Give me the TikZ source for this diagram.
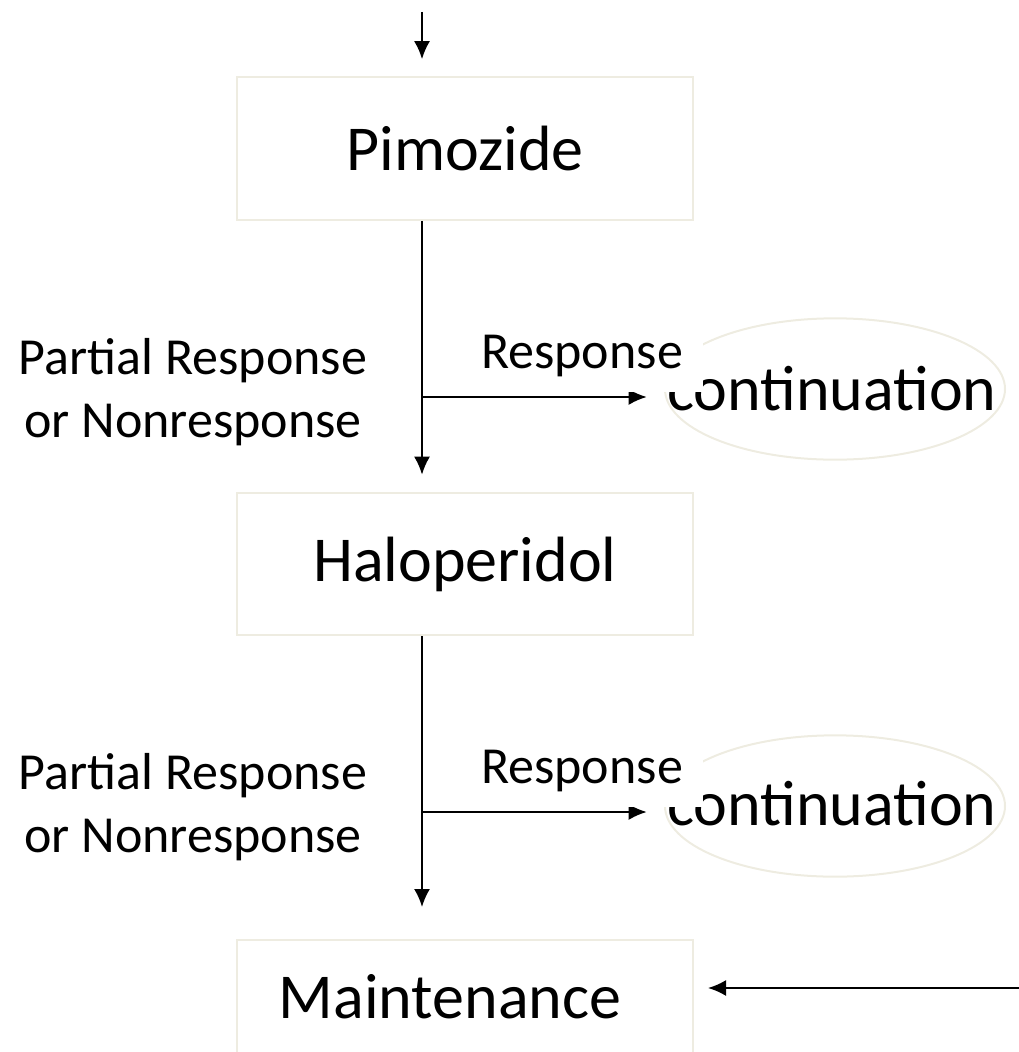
\documentclass[tikz,border=0pt]{standalone}
\usepackage{fontspec}
\setmainfont{Carlito}
\usetikzlibrary{arrows.meta,shapes.geometric}
\definecolor{boxline}{HTML}{EEECE1}
\begin{document}
\begin{tikzpicture}[x=0.75pt,y=-0.75pt,
  drug/.style={draw=boxline,line width=1.5pt,minimum width=342pt,minimum height=107pt,
    font=\fontsize{48}{57}\selectfont},
  cont/.style={draw=boxline,line width=1.5pt,ellipse,minimum width=255pt,minimum height=106pt,
    inner sep=0pt},
  big/.style={font=\fontsize{48}{57}\selectfont,inner sep=0pt,anchor=base},
  lbl/.style={font=\fontsize{39}{47}\selectfont,align=center},
  resp/.style={font=\fontsize{39}{47}\selectfont,fill=white,anchor=base,
    text height=30pt,text depth=15.5pt,inner xsep=15pt,inner ysep=2.5pt},
  arr/.style={-{Latex[length=13.5pt,width=12pt]},line width=1.5pt}]%
\useasboundingbox (0,0) rectangle (1019,1052);
% boxes
\node[drug] (pim) at (465,148.5) {Pimozide};
\node[drug] (hal) at (465,564) {Haloperidol};
\node[drug,minimum height=90pt] (mnt) at (465,1000) {};
\node[big] (mnttxt) at (450,1018) {Maintenance};
\node[cont] (c1) at (835,389) {};
\node[big] (c1txt) at (832,410) {continuation};
\node[cont] (c2) at (835,806) {};
\node[big] (c2txt) at (832,825) {continuation};
% free ends
\coordinate (in) at (422,12);
\coordinate (j1) at (422,397);
\coordinate (j2) at (422,812);
\coordinate (rt) at (1019,988);
% connectors
\draw[arr,shorten >=12.75pt] (in) -- (in |- pim.north);
\draw[arr,shorten >=12.75pt] (pim.south -| in) -- (hal.north -| in);
\draw[arr] (hal.south -| in) -- (422,907);
\draw[arr,shorten >=13pt] (j1) -- (j1 -| c1.west);
\draw[arr,shorten >=13pt] (j2) -- (j2 -| c2.west);
\draw[arr,shorten >=10.5pt] (rt) -- (rt -| mnt.east);
% labels
\node[resp] (r1) at (582,368) {Response};
\node[resp] (r2) at (582,783) {Response};
\node[lbl] (p1) at (193,392) {Partial Response\\or Nonresponse};
\node[lbl] (p2) at (193,807) {Partial Response\\or Nonresponse};
\end{tikzpicture}
\end{document}
